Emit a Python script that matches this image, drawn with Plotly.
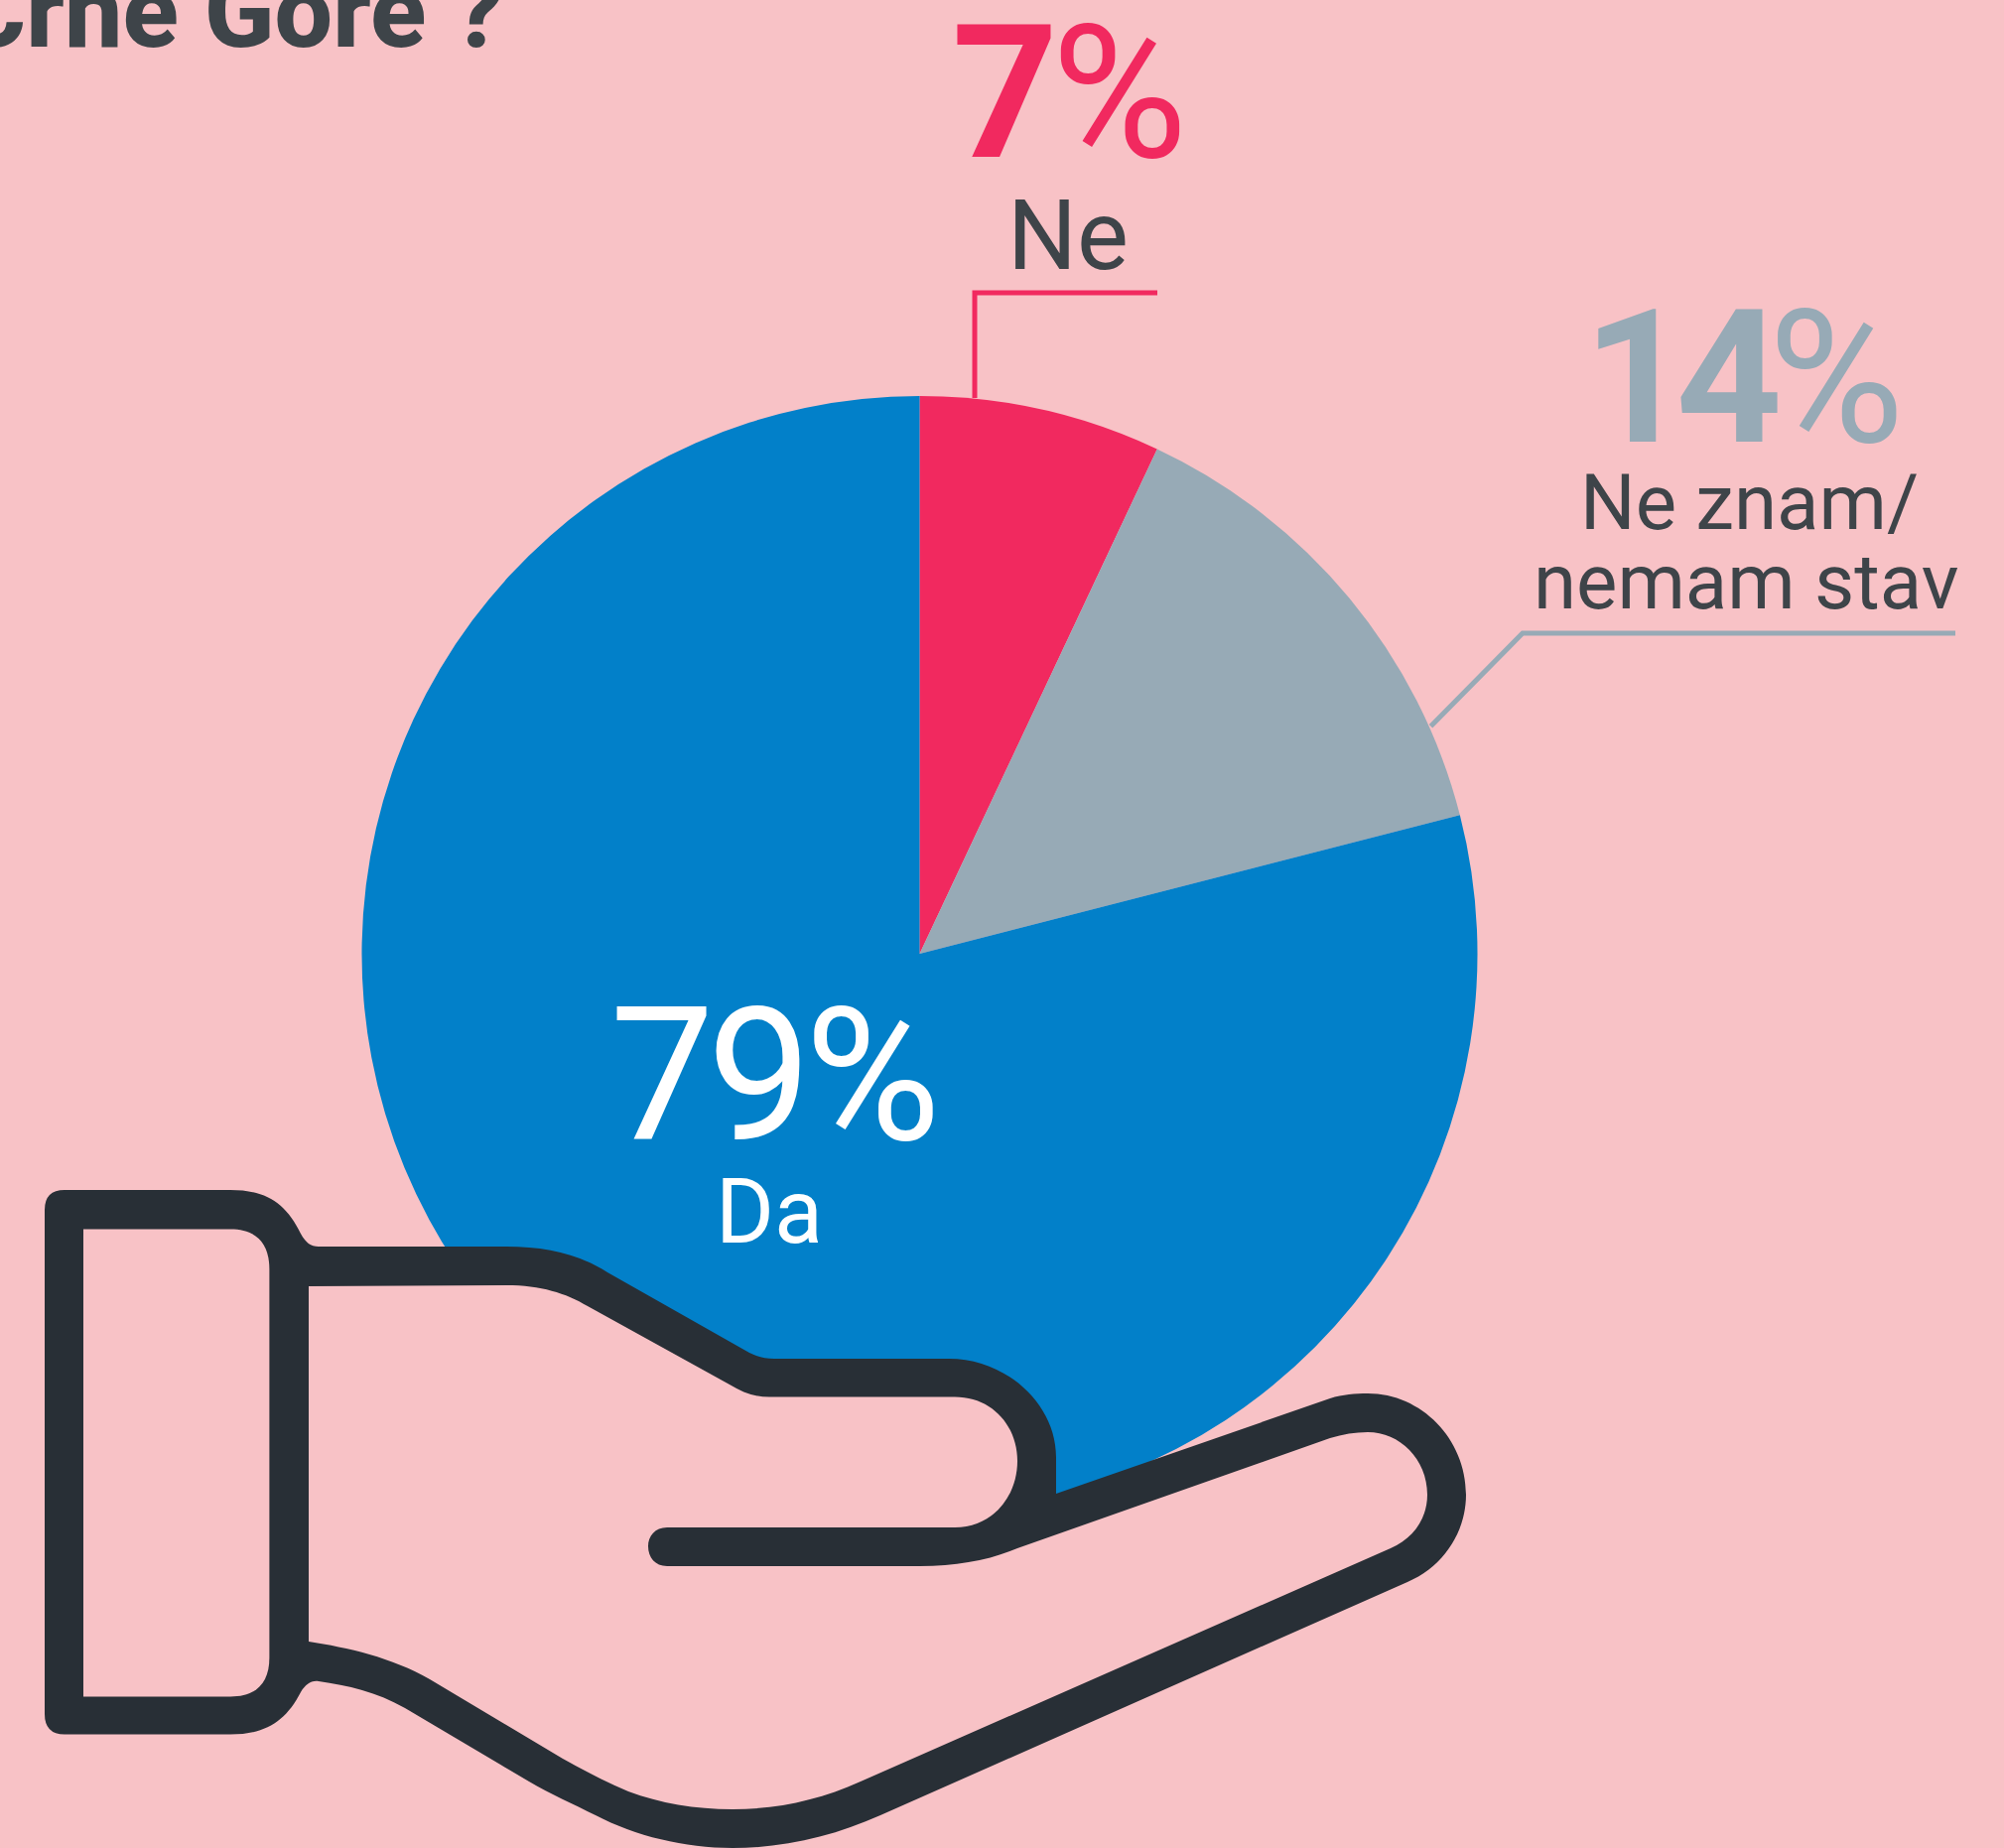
import re
import plotly.graph_objects as go

W, H = 2019, 1862

# Data
labels = ["Ne", "Ne znam/ nemam stav", "Da"]
values = [7, 14, 79]
colors = ["#F1295F", "#97AAB6", "#0280C9"]

BG = "#F8C2C6"
DARK = "#282F36"
TEXT = "#3E4449"
FONT = "Roboto"

def fx(x):
    return x / W

def fy(y):
    return 1 - y / H

def to_paper(path):
    out = []
    for tok in re.findall(r"[A-Za-z]|-?\d+\.?\d*,-?\d+\.?\d*", path):
        if "," in tok:
            a, b = tok.split(",")
            out.append(f"{fx(float(a)):.5f},{fy(float(b)):.5f}")
        else:
            out.append(tok)
    return " ".join(out)

hand_outer = ("M 65,1199 L 232,1199 C 268,1199 288,1212 303,1243 C 308,1252 313,1256 321,1256 "
              "L 510,1256 C 550,1256 582,1263 612,1282 L 755,1363 C 763,1367 770,1369 780,1369 "
              "L 956,1369 C 1014,1369 1064,1415 1064,1468 L 1064,1505 L 1340,1409 "
              "C 1353,1405 1365,1404 1378,1404 C 1432,1404 1477,1450 1477,1506 "
              "C 1477,1543 1455,1578 1418,1594 L 887,1829 C 840,1850 790,1862 738,1862 "
              "C 690,1862 640,1850 600,1829 C 578,1818 555,1808 533,1795 L 408,1721 "
              "C 380,1705 350,1698 321,1694 "
              "C 313,1693 308,1697 303,1705 C 288,1734 268,1747.5 232,1747.5 L 65,1747.5 "
              "Q 45,1747.5 45,1727 L 45,1219 Q 45,1199 65,1199 Z")
cuff_hole = ("M 84,1238.5 L 232,1238.5 C 258,1238.5 271.4,1252 271.4,1279 L 271.4,1670 "
             "C 271.4,1696 258,1709.5 232,1709.5 L 84,1709.5 Z")
palm_hole = ("M 311,1296 L 510,1295 C 545,1295 570,1303 592,1316 L 735,1395 "
             "C 748,1403 760,1407.5 775,1407.5 L 962,1407.5 C 1000,1407.5 1025,1437 1025,1472 "
             "C 1025,1508 1000,1539 962,1539 L 672,1539 C 660,1539 653,1548 653,1558 "
             "C 653,1569 660,1578 672,1578 L 927,1578 C 965,1578 997,1572 1025,1560 L 1340,1449 "
             "C 1353,1445 1365,1443 1378,1443 C 1410,1443 1438,1470 1438,1506 "
             "C 1438,1530 1424,1550 1401,1560 L 867,1795 C 825,1814 782,1823 738,1823 "
             "C 700,1823 665,1817 633,1805 C 610,1795 590,1785 567,1772 L 433,1692 "
             "C 395,1670 350,1660 311,1654 Z")

cx, cy, r = 926.5, 961, 562

fig = go.Figure(go.Pie(
    labels=labels, values=values, sort=False, direction="clockwise", rotation=0,
    marker=dict(colors=colors, line=dict(width=0)),
    textinfo="none", hoverinfo="skip", showlegend=False,
    domain=dict(x=[fx(cx - r), fx(cx + r)], y=[fy(cy + r), fy(cy - r)]),
))

shapes = []
for p, fill in [(hand_outer, DARK), (cuff_hole, BG), (palm_hole, BG)]:
    shapes.append(dict(type="path", xref="paper", yref="paper", path=to_paper(p),
                       fillcolor=fill, line=dict(width=0), layer="above"))
for p, col in [("M 982,401 L 982,295 L 1166,295", colors[0]),
               ("M 1441.5,731.7 L 1534,638 L 1970,638", colors[1])]:
    shapes.append(dict(type="path", xref="paper", yref="paper", path=to_paper(p),
                       line=dict(color=col, width=5), layer="above"))

def ann(text, x, y, size, color, xanchor="center", weight=400):
    return dict(text=text, xref="paper", yref="paper", x=fx(x), y=fy(y), xanchor=xanchor,
                yanchor="middle", showarrow=False, align="center",
                font=dict(family=FONT, size=size, color=color, weight=weight))

annotations = [
    ann("Crne Gore ?", 510, 12, 104, TEXT, xanchor="right", weight=800),
    ann("<b>7</b>%", 1074, 94, 187, colors[0]),
    ann("Ne", 1076, 237, 98, TEXT),
    ann("<b>14</b>%", 1750, 382, 187, colors[1]),
    ann("Ne znam/", 1762, 507, 78, TEXT),
    ann("nemam stav", 1759, 587, 78, TEXT),
    ann("79%", 777, 1084, 187, "#FFFFFF"),
    ann("Da", 775, 1221, 90, "#FFFFFF"),
]

post = """
document.body.style.margin='0';document.body.style.overflow='hidden';
var sp={'7%':'-7px','14%':'-14px','79%':'-7px'};
document.querySelectorAll('.annotation-text').forEach(function(t){
  var s=sp[t.textContent]; if(s){t.style.letterSpacing=s;}
});
"""

fig.update_layout(width=W, height=H, margin=dict(l=0, r=0, t=0, b=0),
                  paper_bgcolor=BG, plot_bgcolor=BG, shapes=shapes, annotations=annotations,
                  showlegend=False)
fig.write_html("out.html", config=dict(displayModeBar=False), post_script=post)
